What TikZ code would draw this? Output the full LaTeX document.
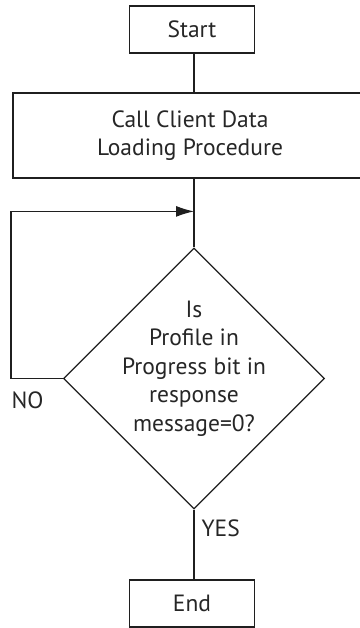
\documentclass[tikz,border=0pt]{standalone}
\usepackage{fontspec}
\setmainfont{PT Sans}
\usetikzlibrary{positioning}
\usetikzlibrary{shapes.geometric, arrows.meta}

\begin{document}
\begin{tikzpicture}[x=1pt,y=-1pt,line width=1.2pt,
  flowline/.style={draw=black!88,line width=1.2pt},
  flowbox/.style={rectangle,draw=black!88,line width=1.2pt,text=black!85,
    font=\fontsize{23.5}{28.5}\selectfont,align=center,inner sep=0pt},
  flowtext/.style={text=black!85,font=\fontsize{23.5}{28.5}\selectfont,align=center,inner sep=0pt}]
\useasboundingbox (0,0) rectangle (359,628);
\node[flowbox,minimum width=125pt,minimum height=47pt] (start) at (192,29.5) {Start};
\node[flowbox,minimum width=354pt,minimum height=85pt] (load) at (190,135.5) {Call Client Data\\Loading Procedure};
\node[diamond,draw=black!88,line width=1.2pt,aspect=1,inner sep=0pt,minimum width=261pt,minimum height=261pt] (check) at (194,378.5) {};
\node[flowtext] (checktext) at ([yshift=10pt]check.center) {Is\\Profile in\\Progress bit in\\response\\message=0?};
\node[flowbox,minimum width=125pt,minimum height=47pt] (stop) at (192,603.5) {End};
\coordinate (merge) at ([yshift=36pt]check.north);
\coordinate (back) at (11,0);

\draw[flowline] (start.south -| check.north) -- (load.north -| check.north);
\draw[flowline] (load.south -| check.north) -- (check.north);
\draw[flowline,-{Latex[length=18pt,width=11pt]}] (check.west) -- (check.west -| back) |- (merge);
\draw[flowline] (check.south) -- (stop.north -| check.south);

\node[flowtext,anchor=north west] (nolabel) at ([yshift=-13pt]check.west -| back) {NO};
\node[flowtext,anchor=west] (yeslabel) at ([xshift=7pt,yshift=-19pt]check.south) {YES};
\end{tikzpicture}
\end{document}
